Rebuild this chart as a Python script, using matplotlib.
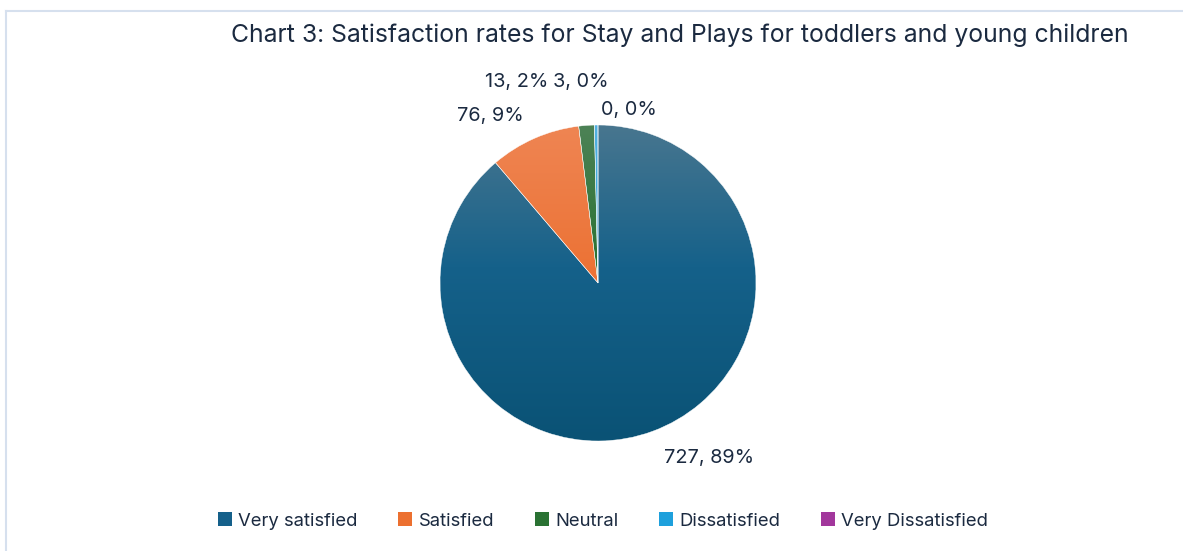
import numpy as np
import matplotlib
matplotlib.use("Agg")
import matplotlib.pyplot as plt
from matplotlib.colors import LinearSegmentedColormap
from matplotlib.patches import Patch
from matplotlib.lines import Line2D

plt.rcParams['font.family'] = ['Inter', 'DejaVu Sans']

# survey counts
categories = ["Very satisfied", "Satisfied", "Neutral", "Dissatisfied", "Very Dissatisfied"]
counts = [727, 76, 13, 3, 0]
pct_labels = ["89%", "9%", "2%", "0%", "0%"]

# gradient stops per slice: top, middle, bottom
shades = [
    ["#48768f", "#15618a", "#0a5275"],
    ["#ef8553", "#ec7336", "#e8651f"],
    ["#4d8256", "#2a7233", "#1a6a26"],
    ["#52b0e0", "#2aa3dc", "#0e9ad8"],
    ["#b04aa8", "#a03a9a", "#8e2a8a"],
]
legend_colors = ["#15608a", "#ec7030", "#2a7233", "#1ea0dc", "#a2379c"]
text_color = "#1b2a40"

W, H = 1183, 551
fig = plt.figure(figsize=(W / 100, H / 100), dpi=100)
ax = fig.add_axes([0, 0, 1, 1])

cx, cy, r = 598, H - 283, 158

wedges, _ = ax.pie(counts, center=(cx, cy), radius=r, startangle=90,
                   counterclock=False, normalize=True, frame=True,
                   wedgeprops=dict(linewidth=0.3, edgecolor="white"))
ax.set_xlim(0, W)
ax.set_ylim(0, H)
ax.set_aspect("equal")
ax.axis("off")

# vertical gradient fill clipped to each wedge
grad = np.linspace(0, 1, 256).reshape(-1, 1)
for w, stops in zip(wedges, shades):
    w.set_facecolor("none")
    cmap = LinearSegmentedColormap.from_list("s", list(zip([0, 0.45, 1], stops)))
    im = ax.imshow(grad, cmap=cmap, aspect="auto", origin="upper",
                   extent=(cx - r, cx + r, cy - r, cy + r), zorder=w.get_zorder() - 0.1)
    im.set_clip_path(w)

# data labels (pixel positions, top-down)
label_pos = [(709, 458), (490, 116), (517, 82), (581, 82), (629, 110)]
for n, p, (lx, ly) in zip(counts, pct_labels, label_pos):
    ax.text(lx, H - ly, f"{n}, {p}", ha="center", va="center",
            fontsize=14.3, color=text_color)

fig.text(680 / W, 1 - 35 / H,
         "Chart 3: Satisfaction rates for Stay and Plays for toddlers and young children",
         ha="center", va="center", fontsize=17.8, color=text_color)

handles = [Patch(facecolor=c, edgecolor="none") for c in legend_colors]
leg = fig.legend(handles, categories, loc="center", bbox_to_anchor=(603 / W, 1 - 521 / H),
                 ncol=5, frameon=False, fontsize=13.3, handlelength=0.75, handleheight=0.75,
                 handletextpad=0.35, columnspacing=2.2)
for t in leg.get_texts():
    t.set_color(text_color)

# chart area border
border = "#d6e0ee"
fig.add_artist(Line2D([6 / W, 6 / W], [0, 1 - 11 / H], color=border, lw=1.5))
fig.add_artist(Line2D([6 / W, 1], [1 - 11 / H, 1 - 11 / H], color=border, lw=1.5))

fig.savefig("out.png", dpi=100)
